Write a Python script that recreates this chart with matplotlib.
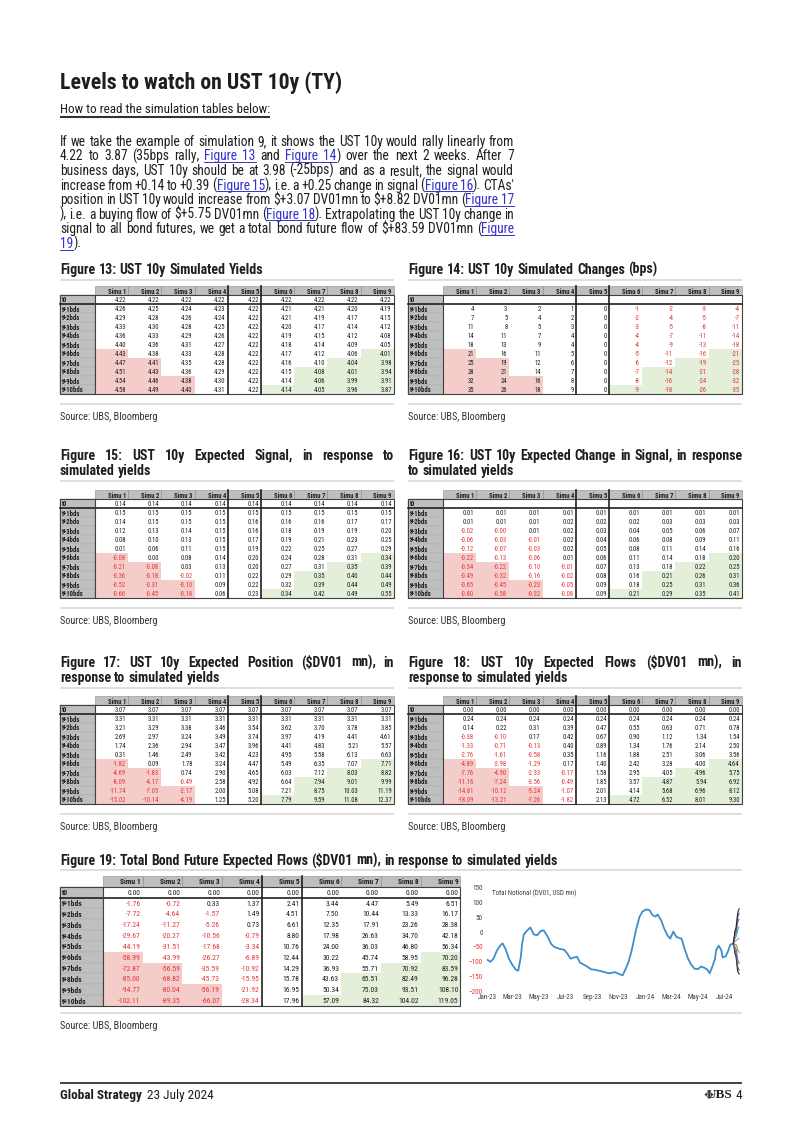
import matplotlib
matplotlib.use("Agg")
import matplotlib.pyplot as plt
import matplotlib.dates as mdates
from matplotlib.patches import Rectangle
from matplotlib import font_manager as fm
import pandas as pd

# ---------------- data ----------------
SIMUS = [f"Simu {i}" for i in range(1, 10)]
ROWS = ["t0"] + [f"t+{i}bds" for i in range(1, 11)]

yields13 = [
    [4.22, 4.22, 4.22, 4.22, 4.22, 4.22, 4.22, 4.22, 4.22],
    [4.26, 4.25, 4.24, 4.23, 4.22, 4.21, 4.21, 4.20, 4.19],
    [4.29, 4.28, 4.26, 4.24, 4.22, 4.21, 4.19, 4.17, 4.15],
    [4.33, 4.30, 4.28, 4.25, 4.22, 4.20, 4.17, 4.14, 4.12],
    [4.36, 4.33, 4.29, 4.26, 4.22, 4.19, 4.15, 4.12, 4.08],
    [4.40, 4.36, 4.31, 4.27, 4.22, 4.18, 4.14, 4.09, 4.05],
    [4.43, 4.38, 4.33, 4.28, 4.22, 4.17, 4.12, 4.06, 4.01],
    [4.47, 4.41, 4.35, 4.28, 4.22, 4.16, 4.10, 4.04, 3.98],
    [4.51, 4.43, 4.36, 4.29, 4.22, 4.15, 4.08, 4.01, 3.94],
    [4.54, 4.46, 4.38, 4.30, 4.22, 4.14, 4.06, 3.99, 3.91],
    [4.58, 4.49, 4.40, 4.31, 4.22, 4.14, 4.05, 3.96, 3.87],
]
changes14 = [
    None,
    [4, 3, 2, 1, 0, -1, -2, -3, -4],
    [7, 5, 4, 2, 0, -2, -4, -5, -7],
    [11, 8, 5, 3, 0, -3, -5, -8, -11],
    [14, 11, 7, 4, 0, -4, -7, -11, -14],
    [18, 13, 9, 4, 0, -4, -9, -13, -18],
    [21, 16, 11, 5, 0, -5, -11, -16, -21],
    [25, 19, 12, 6, 0, -6, -12, -19, -25],
    [28, 21, 14, 7, 0, -7, -14, -21, -28],
    [32, 24, 16, 8, 0, -8, -16, -24, -32],
    [35, 26, 18, 9, 0, -9, -18, -26, -35],
]
signal15 = [
    [0.14, 0.14, 0.14, 0.14, 0.14, 0.14, 0.14, 0.14, 0.14],
    [0.15, 0.15, 0.15, 0.15, 0.15, 0.15, 0.15, 0.15, 0.15],
    [0.14, 0.15, 0.15, 0.15, 0.16, 0.16, 0.16, 0.17, 0.17],
    [0.12, 0.13, 0.14, 0.15, 0.16, 0.18, 0.19, 0.19, 0.20],
    [0.08, 0.10, 0.13, 0.15, 0.17, 0.19, 0.21, 0.23, 0.25],
    [0.01, 0.06, 0.11, 0.15, 0.19, 0.22, 0.25, 0.27, 0.29],
    [-0.08, 0.00, 0.08, 0.14, 0.20, 0.24, 0.28, 0.31, 0.34],
    [-0.21, -0.08, 0.03, 0.13, 0.20, 0.27, 0.31, 0.35, 0.39],
    [-0.36, -0.18, -0.02, 0.11, 0.22, 0.29, 0.35, 0.40, 0.44],
    [-0.52, -0.31, -0.10, 0.09, 0.22, 0.32, 0.39, 0.44, 0.49],
    [-0.66, -0.45, -0.18, 0.06, 0.23, 0.34, 0.42, 0.49, 0.55],
]
dsignal16 = [
    None,
    [0.01, 0.01, 0.01, 0.01, 0.01, 0.01, 0.01, 0.01, 0.01],
    [0.01, 0.01, 0.01, 0.02, 0.02, 0.02, 0.03, 0.03, 0.03],
    [-0.02, -0.0, 0.01, 0.02, 0.03, 0.04, 0.05, 0.06, 0.07],
    [-0.06, -0.03, -0.01, 0.02, 0.04, 0.06, 0.08, 0.09, 0.11],
    [-0.12, -0.07, -0.03, 0.02, 0.05, 0.08, 0.11, 0.14, 0.16],
    [-0.22, -0.13, -0.06, 0.01, 0.06, 0.11, 0.14, 0.18, 0.20],
    [-0.34, -0.22, -0.10, -0.01, 0.07, 0.13, 0.18, 0.22, 0.25],
    [-0.49, -0.32, -0.16, -0.02, 0.08, 0.16, 0.21, 0.26, 0.31],
    [-0.65, -0.45, -0.23, -0.05, 0.09, 0.18, 0.25, 0.31, 0.36],
    [-0.80, -0.58, -0.32, -0.08, 0.09, 0.21, 0.29, 0.35, 0.41],
]
position17 = [
    [3.07, 3.07, 3.07, 3.07, 3.07, 3.07, 3.07, 3.07, 3.07],
    [3.31, 3.31, 3.31, 3.31, 3.31, 3.31, 3.31, 3.31, 3.31],
    [3.21, 3.29, 3.38, 3.46, 3.54, 3.62, 3.70, 3.78, 3.85],
    [2.69, 2.97, 3.24, 3.49, 3.74, 3.97, 4.19, 4.41, 4.61],
    [1.74, 2.36, 2.94, 3.47, 3.96, 4.41, 4.83, 5.21, 5.57],
    [0.31, 1.46, 2.49, 3.42, 4.23, 4.95, 5.58, 6.13, 6.63],
    [-1.82, 0.09, 1.78, 3.24, 4.47, 5.49, 6.35, 7.07, 7.71],
    [-4.69, -1.83, 0.74, 2.90, 4.65, 6.03, 7.12, 8.03, 8.82],
    [-8.09, -4.17, -0.49, 2.58, 4.92, 6.64, 7.94, 9.01, 9.99],
    [-11.74, -7.05, -2.17, 2.00, 5.08, 7.21, 8.75, 10.03, 11.19],
    [-15.02, -10.14, -4.19, 1.25, 5.20, 7.79, 9.59, 11.08, 12.37],
]
flows18 = [
    [0.00, 0.00, 0.00, 0.00, 0.00, 0.00, 0.00, 0.00, 0.00],
    [0.24, 0.24, 0.24, 0.24, 0.24, 0.24, 0.24, 0.24, 0.24],
    [0.14, 0.22, 0.31, 0.39, 0.47, 0.55, 0.63, 0.71, 0.78],
    [-0.38, -0.10, 0.17, 0.42, 0.67, 0.90, 1.12, 1.34, 1.54],
    [-1.33, -0.71, -0.13, 0.40, 0.89, 1.34, 1.76, 2.14, 2.50],
    [-2.76, -1.61, -0.58, 0.35, 1.16, 1.88, 2.51, 3.06, 3.56],
    [-4.89, -2.98, -1.29, 0.17, 1.40, 2.42, 3.28, 4.00, 4.64],
    [-7.76, -4.90, -2.33, -0.17, 1.58, 2.95, 4.05, 4.96, 5.75],
    [-11.16, -7.24, -3.56, -0.49, 1.85, 3.57, 4.87, 5.94, 6.92],
    [-14.81, -10.12, -5.24, -1.07, 2.01, 4.14, 5.68, 6.96, 8.12],
    [-18.09, -13.21, -7.26, -1.82, 2.13, 4.72, 6.52, 8.01, 9.30],
]
total19 = [
    [0.00, 0.00, 0.00, 0.00, 0.00, 0.00, 0.00, 0.00, 0.00],
    [-1.76, -0.72, 0.33, 1.37, 2.41, 3.44, 4.47, 5.49, 6.51],
    [-7.72, -4.64, -1.57, 1.49, 4.51, 7.50, 10.44, 13.33, 16.17],
    [-17.24, -11.27, -5.26, 0.73, 6.61, 12.35, 17.91, 23.26, 28.38],
    [-29.67, -20.27, -10.56, -0.79, 8.80, 17.98, 26.63, 34.70, 42.18],
    [-44.19, -31.51, -17.68, -3.34, 10.76, 24.00, 36.03, 46.80, 56.34],
    [-58.99, -43.99, -26.27, -6.89, 12.44, 30.22, 45.74, 58.95, 70.20],
    [-72.87, -56.59, -35.59, -10.92, 14.29, 36.93, 55.71, 70.92, 83.59],
    [-85.00, -68.82, -45.73, -15.95, 15.78, 43.63, 65.51, 82.49, 96.28],
    [-94.77, -80.04, -56.19, -21.92, 16.95, 50.34, 75.03, 93.51, 108.10],
    [-102.11, -89.35, -66.07, -28.34, 17.96, 57.09, 84.32, 104.02, 119.05],
]

# total notional (DV01, USD mn)
notional_dates = [
    "2023-01-02", "2023-01-09", "2023-01-16", "2023-01-24", "2023-02-01", "2023-02-06",
    "2023-02-13", "2023-02-20", "2023-02-28", "2023-03-08", "2023-03-14", "2023-03-20",
    "2023-03-23", "2023-03-27", "2023-04-04", "2023-04-11", "2023-04-19", "2023-04-27",
    "2023-05-05", "2023-05-12", "2023-05-22", "2023-05-29", "2023-06-05", "2023-06-16",
    "2023-06-28", "2023-07-05", "2023-07-13", "2023-07-21", "2023-07-28", "2023-08-04",
    "2023-08-17", "2023-08-29", "2023-09-08", "2023-09-25", "2023-10-10", "2023-10-23",
    "2023-11-02", "2023-11-10", "2023-11-17", "2023-11-24", "2023-12-01", "2023-12-07",
    "2023-12-11", "2023-12-19", "2023-12-26", "2024-01-03", "2024-01-11", "2024-01-18",
    "2024-01-25", "2024-01-30", "2024-02-07", "2024-02-14", "2024-02-22", "2024-02-28",
    "2024-03-06", "2024-03-13", "2024-03-20", "2024-03-25", "2024-04-01", "2024-04-09",
    "2024-04-16", "2024-04-24", "2024-05-02", "2024-05-09", "2024-05-17", "2024-05-24",
    "2024-05-29", "2024-06-04", "2024-06-10", "2024-06-13", "2024-06-19", "2024-06-25",
    "2024-06-28", "2024-07-05", "2024-07-10", "2024-07-16", "2024-07-22",
]
notional = [
    -94, -101, -90, -62, -45, -38,
    -58, -88, -110, -127, -131, -85,
    -40, -8, 6, 16, -8, -10,
    4, 6, -18, -40, -50, -56,
    -60, -72, -90, -86, -84, -104,
    -114, -126, -128, -134, -140, -136,
    -142, -147, -125, -100, -62, -20,
    8, 52, 70, 77, 75, 58,
    53, 60, 40, 12, -12, -22,
    2, -16, -20, -22, -56, -90,
    -110, -124, -126, -117, -121, -128,
    -140, -118, -92, -60, -46, -62,
    -86, -82, -66, -42, -40,
]

# ---------------- fonts ----------------
names = {f.name for f in fm.fontManager.ttflist}
cond = {f.name for f in fm.fontManager.ttflist
        if str(f.stretch) in ("condensed", "semi-condensed", "extra-condensed")}
FAM, STR = "Roboto", "normal"
for c in ["Liberation Sans Narrow", "Roboto Condensed", "Open Sans Condensed", "Noto Sans Condensed"]:
    if c in names:
        FAM = c
        break
else:
    for c in ["Noto Sans", "DejaVu Sans", "Open Sans"]:
        if c in cond:
            FAM, STR = c, "condensed"
            break
plt.rcParams["font.family"] = [FAM, "DejaVu Sans"]
plt.rcParams["font.stretch"] = STR

INK = "#1E1E1E"
GRAY = "#BFBFBF"
PINK = "#F4CDCA"
GREEN = "#E3EFD9"
RED = "#E8353A"
LINK = "#3333CC"
PX = 100 / 72

fig = plt.figure(figsize=(8.02, 11.34), dpi=100)
pg = fig.add_axes([0, 0, 1, 1])
pg.set_xlim(0, 802)
pg.set_ylim(1134, 0)
pg.axis("off")
R = fig.canvas.get_renderer()


def put(x, y, s, size, **kw):
    kw.setdefault("va", "baseline")
    kw.setdefault("color", INK)
    return pg.text(x, y, s, fontsize=size, parse_math=False, **kw)


def width(s, size, weight="normal"):
    t = put(0, 0, s, size, fontweight=weight)
    w = t.get_window_extent(R).width
    t.remove()
    return w


def fit(s, target, weight="normal"):
    return 10 * target / width(s, 10, weight)


def parse(line):
    words, link, gid = [], False, 0
    for raw in line.split(" "):
        segs, cur = [], ""
        for ch in raw:
            if ch in "{}":
                if cur:
                    segs.append((cur, link, gid))
                cur = ""
                if ch == "{":
                    link, gid = True, gid + 1
                else:
                    link = False
            else:
                cur += ch
        if cur:
            segs.append((cur, link, gid))
        words.append(segs)
    return words


def line_out(x0, x1, yc, line, size, weight="normal", justify=True):
    words = parse(line)
    ws = [[width(s, size, weight) for s, _, _ in w] for w in words]
    tot = sum(sum(w) for w in ws)
    sp = width("a a", size, weight) - width("aa", size, weight)
    gap = sp
    if justify and len(words) > 1:
        gap = max((x1 - x0 - tot) / (len(words) - 1), 0.6 * sp)
    base = yc + 0.36 * size * PX
    x, runs = x0, {}
    for w, wl in zip(words, ws):
        for (s, link, g), sw in zip(w, wl):
            put(x, base, s, size, fontweight=weight, color=LINK if link else INK)
            if link:
                a = runs.get(g, (x, x))[0]
                runs[g] = (a, x + sw)
            x += sw
        x += gap
    for a, b in runs.values():
        pg.plot([a, b], [base + 1.6] * 2, color=LINK, lw=0.7)


def rule(x0, x1, y, color="#DCDCDC", lw=1.3):
    pg.plot([x0, x1], [y, y], color=color, lw=lw, solid_capstyle="butt")


RED_UPTO = {6: 1, 7: 2, 8: 2, 9: 3, 10: 3}
GREEN_FROM = {6: 8, 7: 7, 8: 6, 9: 6, 10: 5}


def table(x0, y0, lab_w, col_w, row_h, vals, dec, fs):
    xr = x0 + lab_w + 9 * col_w
    yb = y0 + 12 * row_h
    for j, name in enumerate(SIMUS):
        xl = x0 + lab_w + j * col_w
        pg.add_patch(Rectangle((xl, y0), col_w, row_h, fc=GRAY, ec="#8A8A8A", lw=0.4))
        put(xl + col_w - 2, y0 + row_h / 2, name, fs, ha="right", va="center_baseline",
            fontweight="bold")
    for i, lab in enumerate(ROWS):
        yt = y0 + (i + 1) * row_h
        pg.add_patch(Rectangle((x0, yt), lab_w, row_h, fc=GRAY, ec="#A8A8A8", lw=0.3))
        put(x0 + 1.5, yt + row_h / 2, lab, fs, ha="left", va="center_baseline", fontweight="bold")
        row = vals[i]
        for j in range(9):
            xl = x0 + lab_w + j * col_w
            if i in RED_UPTO and j < RED_UPTO[i]:
                pg.add_patch(Rectangle((xl, yt), col_w, row_h, fc=PINK, ec="none"))
            elif i in GREEN_FROM and j >= GREEN_FROM[i]:
                pg.add_patch(Rectangle((xl, yt), col_w, row_h, fc=GREEN, ec="none"))
            if row is None:
                continue
            s = f"{row[j]:.{dec}f}"
            put(xl + col_w - 2, yt + row_h / 2, s, fs, ha="right", va="center_baseline",
                color=RED if s.startswith("-") else INK)
    pg.add_patch(Rectangle((x0, y0 + row_h), xr - x0, yb - y0 - row_h, fc="none", ec="#404040", lw=0.8))
    pg.plot([x0, xr], [y0 + 2 * row_h] * 2, color="#202020", lw=1.2)
    pg.plot([x0 + lab_w] * 2, [y0 + row_h, yb], color="#404040", lw=0.8)
    for k in (4, 5):
        xk = x0 + lab_w + k * col_w
        pg.plot([xk, xk], [y0, yb], color="#202020", lw=1.2)


# ---------------- header text ----------------
put(60, 80, "Levels to watch on UST 10y (TY)", fit("Levels to watch on UST 10y (TY)", 282, "bold"),
    fontweight="bold", va="center_baseline")
sub = "How to read the simulation tables below:"
put(60, 108, sub, fit(sub, 208), va="center_baseline")
rule(60, 270, 116.5, color="#333333", lw=1.5)

para = [
    "If we take the example of simulation 9, it shows the UST 10y would rally linearly from",
    "4.22 to 3.87 (35bps rally, {Figure 13} and {Figure 14}) over the next 2 weeks. After 7",
    "business days, UST 10y should be at 3.98 (-25bps) and as a result, the signal would",
    "increase from +0.14 to +0.39 ({Figure 15}), i.e. a +0.25 change in signal ({Figure 16}). CTAs'",
    "position in UST 10y would increase from $+3.07 DV01mn to $+8.82 DV01mn ({Figure 17}",
    "), i.e. a buying flow of $+5.75 DV01mn ({Figure 18}). Extrapolating the UST 10y change in",
    "signal to all bond futures, we get a total bond future flow of $+83.59 DV01mn ({Figure}",
    "{19}).",
]
p_size = fit(para[0], 448)
for k, ln in enumerate(para):
    line_out(60, 514, 141 + 14.6 * k, ln, p_size, justify=k < len(para) - 1)

# ---------------- figure blocks ----------------
t_size = fit("Figure 13: UST 10y Simulated Yields", 203, "bold")
s_size = fit("Source: UBS, Bloomberg", 98)


def block(x0, x1, titles, y_title, vals, dec, y_tab):
    for k, t in enumerate(titles):
        line_out(x0, x1, y_title + 14.6 * k, t, t_size, "bold", justify=k < len(titles) - 1)
    rule(x0, x1, y_title + 14.6 * (len(titles) - 1) + 11)
    table(x0, y_tab, 35, 33.2, 9.0, vals, dec, fit("4.22", 11.5))
    rule(x0, x1, y_tab + 108 + 10)
    put(x0, y_tab + 108 + 22, "Source: UBS, Bloomberg", s_size, va="center_baseline", color="#333333")


block(60, 394, ["Figure 13: UST 10y Simulated Yields"], 269, yields13, 2, 286)
block(408, 742, ["Figure 14: UST 10y Simulated Changes (bps)"], 269, changes14, 0, 286)
block(60, 394, ["Figure 15: UST 10y Expected Signal, in response to", "simulated yields"],
      455, signal15, 2, 490)
block(408, 742, ["Figure 16: UST 10y Expected Change in Signal, in response", "to simulated yields"],
      455, dsignal16, 2, 490)
block(60, 394, ["Figure 17: UST 10y Expected Position ($DV01 mn), in", "response to simulated yields"],
      662, position17, 2, 696)
block(408, 742, ["Figure 18: UST 10y Expected Flows ($DV01 mn), in", "response to simulated yields"],
      662, flows18, 2, 696)

# figure 19
line_out(60, 742, 860, "Figure 19: Total Bond Future Expected Flows ($DV01 mn), in response to simulated yields",
         t_size, "bold", justify=False)
rule(60, 742, 870)
table(60, 876, 43, 39.7, 10.83, total19, 2, fit("0.00", 13))
rule(60, 742, 1013)
put(60, 1025, "Source: UBS, Bloomberg", s_size, va="center_baseline", color="#333333")

# chart
ax = fig.add_axes([487 / 802, 1 - 991 / 1134, 253 / 802, 103 / 1134])
d = pd.to_datetime(notional_dates)
ax.plot(d, notional, color="#3D8FCB", lw=1.3)
fan_x = pd.bdate_range(d[-1], periods=11)
FAN = ["#1F1F1F", "#5A5A5A", "#8064A2", "#6FAE47", "#A5A5A5", "#4BACC6", "#7F7F7F", "#5B5B9B", "#2A2A2A"]
for j in range(9):
    ax.plot(fan_x, [notional[-1] + total19[i][j] for i in range(11)], color=FAN[j], lw=0.8)
ax.set_ylim(-200, 150)
yt = list(range(-200, 151, 50))
ax.set_yticks(yt)
ax.set_xlim(pd.Timestamp("2023-01-01"), pd.Timestamp("2024-08-07"))
ax.xaxis.set_major_locator(mdates.MonthLocator(bymonth=[1, 3, 5, 7, 9, 11]))
ax.xaxis.set_major_formatter(mdates.DateFormatter("%b-%y"))
ax.patch.set_alpha(0)
for s in ax.spines.values():
    s.set_visible(False)
c_size = fit("Jan-23", 19)
ax.tick_params(length=0, labelsize=c_size, labelcolor="#404040")
ax.tick_params(axis="x", pad=2)
ax.tick_params(axis="y", pad=3)
for v, tk in zip(yt, ax.yaxis.get_major_ticks()):
    tk.label1.set_color(RED if v < 0 else "#404040")
ax.text(0.02, 0.95, "Total Notional (DV01, USD mn)", transform=ax.transAxes,
        fontsize=fit("Total Notional (DV01, USD mn)", 85), color="#404040", va="center")

# ---------------- footer ----------------
rule(60, 742, 1083, color="#333333", lw=1.3)
f_size = fit("Global Strategy", 82, "bold")
put(60, 1094, "Global Strategy", f_size, fontweight="bold", va="center_baseline")
put(60 + width("Global Strategy", f_size, "bold") + 5, 1094, "23 July 2024", f_size, va="center_baseline")
put(742, 1094, "4", f_size, ha="right", va="center_baseline")
put(732, 1094, "UBS", f_size, ha="right", va="center_baseline", fontweight="bold",
    family="Liberation Serif")
put(713, 1094, "\u2725", f_size * 0.9, ha="right", va="center_baseline", family="DejaVu Sans",
    color="#444444")

fig.savefig("out.png", dpi=100)
